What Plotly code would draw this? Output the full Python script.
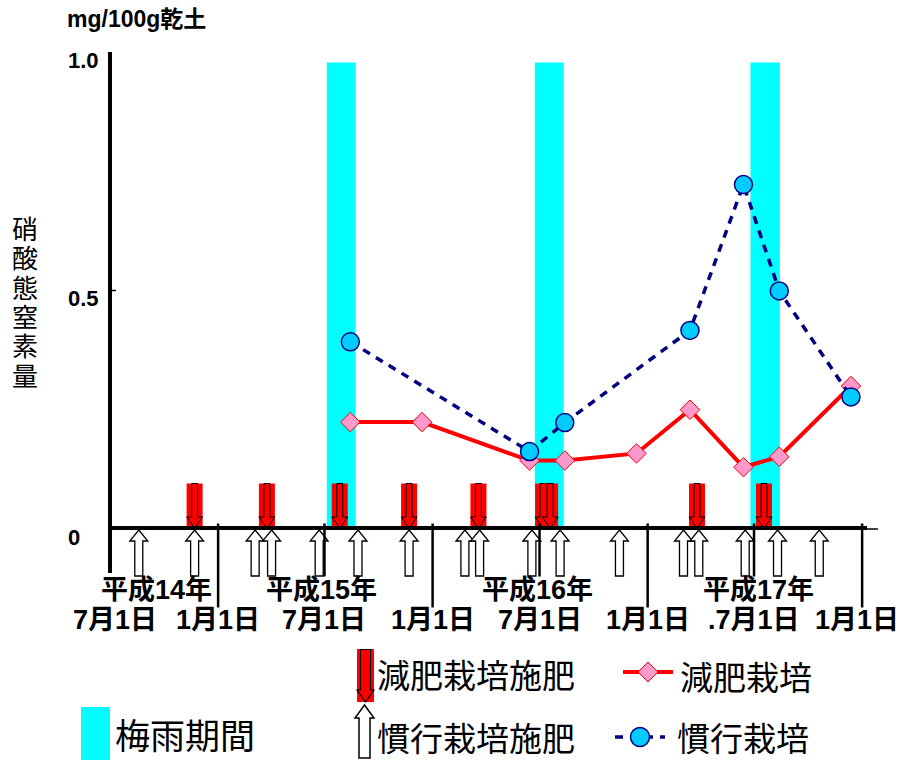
import plotly.graph_objects as go

# ---- data -------------------------------------------------------------
# soil sampling dates and nitrate nitrogen (mg/100g dry soil)
reduced_dates = ["2003-08-14", "2003-12-14", "2004-06-14", "2004-08-13", "2004-12-13",
                 "2005-03-14", "2005-06-13", "2005-08-13", "2005-12-13"]
reduced_values = [0.223, 0.223, 0.142, 0.142, 0.157, 0.249, 0.128, 0.150, 0.299]

conv_dates = ["2003-08-14", "2004-06-14", "2004-08-13", "2005-03-14",
              "2005-06-13", "2005-08-13", "2005-12-13"]
conv_values = [0.392, 0.161, 0.222, 0.416, 0.723, 0.499, 0.276]

# rainy season (梅雨) periods
rainy_start = ["2003-07-05", "2004-06-23", "2005-06-25"]
rainy_end = ["2003-08-23", "2004-08-11", "2005-08-14"]

# fertilizer application dates
reduced_fert_dates = ["2002-11-22", "2003-03-25", "2003-07-27", "2003-11-22", "2004-03-19",
                      "2004-07-07", "2004-07-19", "2005-03-26", "2005-07-18"]
conv_fert_dates = ["2002-08-19", "2002-11-22", "2003-03-05", "2003-04-02", "2003-06-22",
                   "2003-08-27", "2003-11-22", "2004-02-25", "2004-03-21", "2004-06-18",
                   "2004-08-05", "2004-11-14", "2005-03-03", "2005-03-29", "2005-06-16",
                   "2005-08-10", "2005-10-20"]

# axis labels
tick_dates = ["2002-07-01", "2003-01-01", "2003-07-01", "2004-01-01",
              "2004-07-01", "2005-01-01", "2005-07-01", "2006-01-01"]
tick_text = ["7月1日", "1月1日", "7月1日", "1月1日", "7月1日", "1月1日", ".7月1日", "1月1日"]
year_labels = ["平成14年", "平成15年", "平成16年", "平成17年"]
y_tick_vals = [1.0, 0.5, 0.0]
y_tick_text = ["1.0", "0.5", "0"]
y_title = "硝酸態窒素量"

# ---- layout helpers ---------------------------------------------------
W, H = 900, 760
L, R, T, B = 110, 22, 53, 232
PW, PH = W - L - R, H - T - B
Y0 = T + PH  # pixel row of the x axis


def PX(x):
    return (x - L) / PW


def PY(y):
    return (Y0 - y) / PH


BOLD = "Liberation Sans, Noto Sans CJK JP, sans-serif"
REG = "Noto Sans CJK JP, sans-serif"
RAINY_TOP = 0.98

fig = go.Figure()

fig.add_trace(go.Scatter(
    x=reduced_dates, y=reduced_values, mode="lines+markers", name="減肥栽培",
    line=dict(color="#FF0000", width=4),
    marker=dict(symbol="diamond", size=15, color="#FF99CC",
                line=dict(color="#FF0000", width=1)),
))
fig.add_trace(go.Scatter(
    x=conv_dates, y=conv_values, mode="lines+markers", name="慣行栽培",
    line=dict(color="#000080", width=3.5, dash="8px,7px"),
    marker=dict(symbol="circle", size=18, color="#00CCFF",
                line=dict(color="#000080", width=1.5)),
))

shapes = []

# rainy season columns
for s, e in zip(rainy_start, rainy_end):
    shapes.append(dict(type="rect", xref="x", yref="y", x0=s, x1=e, y0=0, y1=RAINY_TOP,
                       fillcolor="#00FFFF", line=dict(width=0), layer="below"))

# conventional fertilization: hollow up arrows under the axis
UP = "M 0,-2 L 9,-13 L 4,-13 L 4,-48 L -4,-48 L -4,-13 L -9,-13 Z"
for d in conv_fert_dates:
    shapes.append(dict(type="path", xref="x", xsizemode="pixel", xanchor=d,
                       yref="paper", ysizemode="pixel", yanchor=0, path=UP,
                       fillcolor="white", line=dict(color="black", width=1.3)))

# reduced fertilization: red blocks with down arrows above the axis
DOWN = "M -3,44.5 L 3,44.5 L 3,11 L 8,11 L 0,0 L -8,11 L -3,11 Z"
for d in reduced_fert_dates:
    shapes.append(dict(type="rect", xref="x", xsizemode="pixel", xanchor=d,
                       yref="paper", ysizemode="pixel", yanchor=0,
                       x0=-8, x1=8, y0=0, y1=44.5,
                       fillcolor="#FF0000", line=dict(width=0)))
    shapes.append(dict(type="path", xref="x", xsizemode="pixel", xanchor=d,
                       yref="paper", ysizemode="pixel", yanchor=0, path=DOWN,
                       fillcolor="rgba(0,0,0,0)", line=dict(color="black", width=1)))

# separators below the axis at each tick
for d in tick_dates[1:]:
    low = -79.5 if d.endswith("-01-01") else -48.5
    shapes.append(dict(type="line", xref="x", xsizemode="pixel", xanchor=d,
                       yref="paper", ysizemode="pixel", yanchor=0,
                       x0=0, x1=0, y0=4.5, y1=low, line=dict(color="black", width=2.5)))

# axes
shapes.append(dict(type="line", xref="paper", yref="paper", x0=0, x1=0,
                   y0=PY(573), y1=PY(52), line=dict(color="black", width=4)))
shapes.append(dict(type="line", xref="paper", yref="paper", x0=0, x1=PX(867),
                   y0=0, y1=0, line=dict(color="black", width=4)))
shapes.append(dict(type="line", xref="paper", yref="paper", x0=PX(866), x1=1,
                   y0=PY(529), y1=PY(529), line=dict(color="black", width=1.5)))
shapes.append(dict(type="line", xref="paper", yref="y", x0=0, x1=PX(116),
                   y0=0.5, y1=0.5, line=dict(color="black", width=1.5)))

# legend glyphs
shapes.append(dict(type="rect", xref="paper", yref="paper", x0=PX(81), x1=PX(110),
                   y0=PY(760), y1=PY(707), fillcolor="#00FFFF", line=dict(width=0)))
shapes.append(dict(type="rect", xref="paper", xsizemode="pixel", xanchor=PX(365.5),
                   yref="paper", ysizemode="pixel", yanchor=PY(702),
                   x0=-8.5, x1=8.5, y0=0, y1=53, fillcolor="#FF0000", line=dict(width=0)))
shapes.append(dict(type="path", xref="paper", xsizemode="pixel", xanchor=PX(365.5),
                   yref="paper", ysizemode="pixel", yanchor=PY(702),
                   path="M -5,52.5 L 5,52.5 L 5,12 L 8.5,12 L 0,0 L -8.5,12 L -5,12 Z",
                   fillcolor="rgba(0,0,0,0)", line=dict(color="black", width=1.2)))
shapes.append(dict(type="path", xref="paper", xsizemode="pixel", xanchor=PX(364.5),
                   yref="paper", ysizemode="pixel", yanchor=PY(758),
                   path="M 0,53 L 9.5,40 L 5.5,40 L 5.5,0 L -5.5,0 L -5.5,40 L -9.5,40 Z",
                   fillcolor="white", line=dict(color="black", width=1.5)))
shapes.append(dict(type="line", xref="paper", yref="paper", x0=PX(623), x1=PX(673),
                   y0=PY(672), y1=PY(672), line=dict(color="#FF0000", width=4)))
shapes.append(dict(type="path", xref="paper", xsizemode="pixel", xanchor=PX(648),
                   yref="paper", ysizemode="pixel", yanchor=PY(672),
                   path="M 10,0 L 0,10 L -10,0 L 0,-10 Z",
                   fillcolor="#FF99CC", line=dict(color="#FF0000", width=1)))
shapes.append(dict(type="line", xref="paper", yref="paper", x0=PX(615), x1=PX(665),
                   y0=PY(737), y1=PY(737), line=dict(color="#000080", width=3.5, dash="8px,7px")))
shapes.append(dict(type="circle", xref="paper", xsizemode="pixel", xanchor=PX(640),
                   yref="paper", ysizemode="pixel", yanchor=PY(737),
                   x0=-9.5, x1=9.5, y0=-9.5, y1=9.5,
                   fillcolor="#00CCFF", line=dict(color="#000080", width=1.5)))

annotations = []


def text(x, y, s, size, family, xanchor="center", xref="paper", xshift=0):
    annotations.append(dict(x=x, y=y, xref=xref, yref="paper", text=s, showarrow=False,
                            xanchor=xanchor, yanchor="middle", xshift=xshift,
                            font=dict(family=family, size=size, color="black")))


# unit and y-axis labels
text(PX(65), PY(19), "<b>mg/100g乾土</b>", 23, BOLD, "left")
for v, s in zip(y_tick_vals, y_tick_text):
    yy = {1.0: 60, 0.5: 298, 0.0: 537}[v]
    text(PX(66), PY(yy), "<b>%s</b>" % s, 22, BOLD, "left")
# vertical axis title, stacked one character at a time
for i, ch in enumerate(y_title):
    text(PX(25), PY(227.5 + i * 29.3), ch, 26, REG)

# x-axis labels (the outermost two are nudged inward)
n = len(tick_dates)
for i, (d, s) in enumerate(zip(tick_dates, tick_text)):
    shift = 5 if i == 0 else (-5 if i == n - 1 else 0)
    text(d, PY(620), "<b>%s</b>" % s, 27, BOLD, xref="x", xshift=shift)
for px_, s in zip([156, 321, 537, 758], year_labels):
    text(PX(px_), PY(590), "<b>%s</b>" % s, 27, BOLD)

# legend text
text(PX(113), PY(733), "梅雨期間", 35, REG, "left")
text(PX(375), PY(674), "減肥栽培施肥", 33, REG, "left")
text(PX(375), PY(737), "慣行栽培施肥", 33, REG, "left")
text(PX(678), PY(676), "減肥栽培", 33, REG, "left")
text(PX(675), PY(737), "慣行栽培", 33, REG, "left")

fig.update_layout(
    width=W, height=H, autosize=False,
    margin=dict(l=L, r=R, t=T, b=B, pad=0),
    paper_bgcolor="white", plot_bgcolor="white",
    showlegend=False,
    xaxis=dict(type="date", range=["2002-07-01", "2006-01-28"], visible=False),
    yaxis=dict(range=[0, 1], visible=False),
    shapes=shapes, annotations=annotations,
)

fig.write_html("out.html")
